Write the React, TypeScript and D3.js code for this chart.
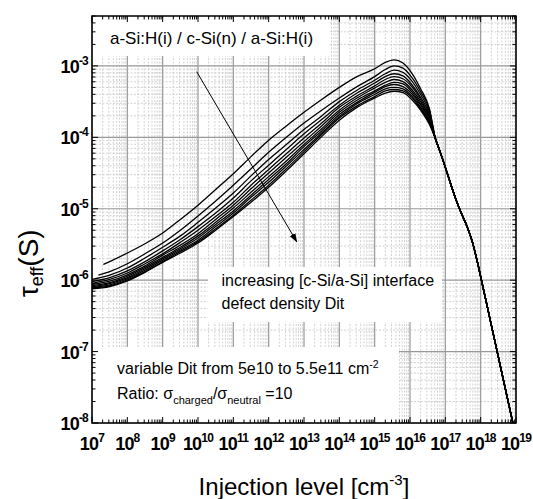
import React from 'react';
import * as d3 from 'd3';

// log10 of injection level [cm^-3] shared by the rising/peak parts of the curves
const gridLogN = [7, 7.5, 8, 8.5, 9, 9.5, 10, 10.5, 11, 11.5, 12, 12.5, 13, 13.5, 14, 14.5, 15, 15.3, 15.55, 15.8, 16.05, 16.3, 16.55];

// log10 tau_eff [s] for each Dit (cm^-2)
const tauDit0500 = [null, -5.74, -5.62, -5.49, -5.34, -5.15, -4.95, -4.73, -4.51, -4.27, -4.04, -3.84, -3.65, -3.47, -3.30, -3.15, -3.04, -2.95, -2.915, -2.96, -3.10, -3.32, -3.60];
const tauDit1000 = [null, -5.88, -5.77, -5.63, -5.48, -5.30, -5.10, -4.89, -4.67, -4.44, -4.21, -4.00, -3.80, -3.62, -3.45, -3.29, -3.15, -3.05, -3.00, -3.03, -3.16, -3.36, -3.62];
const tauDit1500 = [-5.99, -5.93, -5.83, -5.69, -5.54, -5.38, -5.19, -4.99, -4.78, -4.54, -4.31, -4.10, -3.89, -3.70, -3.50, -3.34, -3.20, -3.11, -3.06, -3.09, -3.21, -3.40, -3.65];
const tauDit2000 = [-6.02, -5.965, -5.87, -5.74, -5.59, -5.43, -5.25, -5.06, -4.85, -4.61, -4.39, -4.17, -3.95, -3.75, -3.55, -3.38, -3.24, -3.15, -3.11, -3.14, -3.26, -3.44, -3.68];
const tauDit2500 = [-6.045, -5.99, -5.90, -5.77, -5.63, -5.47, -5.30, -5.11, -4.91, -4.67, -4.45, -4.23, -4.01, -3.80, -3.58, -3.42, -3.28, -3.19, -3.15, -3.18, -3.29, -3.47, -3.71];
const tauDit3000 = [-6.06, -6.015, -5.925, -5.80, -5.65, -5.51, -5.35, -5.15, -4.95, -4.72, -4.50, -4.28, -4.06, -3.84, -3.62, -3.45, -3.31, -3.23, -3.19, -3.22, -3.33, -3.50, -3.73];
const tauDit3500 = [-6.075, -6.035, -5.945, -5.82, -5.68, -5.54, -5.38, -5.19, -4.99, -4.77, -4.55, -4.33, -4.10, -3.88, -3.65, -3.48, -3.35, -3.27, -3.23, -3.25, -3.36, -3.53, -3.75];
const tauDit4000 = [-6.09, -6.05, -5.965, -5.84, -5.70, -5.56, -5.41, -5.22, -5.03, -4.81, -4.59, -4.37, -4.13, -3.91, -3.68, -3.51, -3.37, -3.29, -3.26, -3.29, -3.39, -3.55, -3.77];
const tauDit4500 = [-6.10, -6.065, -5.98, -5.86, -5.72, -5.58, -5.44, -5.25, -5.06, -4.84, -4.63, -4.40, -4.17, -3.94, -3.71, -3.53, -3.40, -3.32, -3.30, -3.32, -3.42, -3.58, -3.79];
const tauDit5000 = [-6.11, -6.08, -5.995, -5.88, -5.74, -5.60, -5.46, -5.28, -5.09, -4.88, -4.67, -4.44, -4.20, -3.96, -3.73, -3.56, -3.43, -3.35, -3.33, -3.35, -3.44, -3.60, -3.80];
const tauDit5500 = [-6.12, -6.09, -6.01, -5.89, -5.75, -5.62, -5.48, -5.30, -5.11, -4.91, -4.70, -4.47, -4.23, -3.99, -3.76, -3.58, -3.45, -3.38, -3.355, -3.375, -3.47, -3.62, -3.82];

// first points of the two curves that start inside the plot
const startLogN = [7.32, 7.18];
const startLogTau = [-5.78, -5.93];

// common high-injection tail (all curves merge)
const tailLogN = [16.72, 16.85, 17.0, 17.15, 17.3, 17.45, 17.6, 17.75, 17.9, 18.0, 18.2, 18.4, 18.6, 18.8, 18.92];
const tailLogTau = [-4.02, -4.20, -4.42, -4.65, -4.87, -5.06, -5.23, -5.44, -5.73, -5.95, -6.40, -6.85, -7.30, -7.75, -8.02];

const xExponents = ['7', '8', '9', '10', '11', '12', '13', '14', '15', '16', '17', '18', '19'];
const yExponents = ['-8', '-7', '-6', '-5', '-4', '-3'];

const series = [tauDit0500, tauDit1000, tauDit1500, tauDit2000, tauDit2500, tauDit3000, tauDit3500, tauDit4000, tauDit4500, tauDit5000, tauDit5500];

const FONT = 'Liberation Sans, Arial, sans-serif';

export default function App() {
  const L = 92, R = 516, T = 16, B = 423;
  const x = d3.scaleLog().domain([1e7, 1e19]).range([L, R]);
  const y = d3.scaleLog().domain([1e-8, 5e-3]).range([B, T]);

  const xMajor = xExponents.map((e) => Math.pow(10, +e));
  const yMajor = yExponents.map((e) => Math.pow(10, +e));
  const xMinor: number[] = [];
  for (let e = 7; e < 19; e++) for (let k = 2; k <= 9; k++) xMinor.push(k * Math.pow(10, e));
  const yMinor: number[] = [];
  for (let e = -8; e < -2; e++) for (let k = 2; k <= 9; k++) { const v = k * Math.pow(10, e); if (v <= 5.0001e-3) yMinor.push(v); }

  const line = d3.line<[number, number]>()
    .x((d) => x(Math.pow(10, d[0])))
    .y((d) => y(Math.pow(10, d[1])))
    .curve(d3.curveMonotoneX);

  const paths = series.map((vals, i) => {
    const pts: [number, number][] = [];
    if (i < startLogN.length) pts.push([startLogN[i], startLogTau[i]]);
    vals.forEach((v, j) => { if (v !== null) pts.push([gridLogN[j], v as number]); });
    tailLogN.forEach((n, j) => pts.push([n, tailLogTau[j]]));
    return line(pts) || '';
  });

  const majorGrid = '#999999';
  const minorGrid = '#c6c6c6';

  return (
    <svg width={533} height={499} style={{ display: 'block', position: 'absolute', left: 0, top: 0 }} fontFamily={FONT}>
      <defs>
        <clipPath id="plotClip"><rect x={L} y={T} width={R - L} height={B - T} /></clipPath>
        <marker id="arrowHead" viewBox="0 0 10 10" refX="9" refY="5" markerWidth="9" markerHeight="9" markerUnits="userSpaceOnUse" orient="auto">
          <path d="M0,1.5 L10,5 L0,8.5 z" fill="#000" />
        </marker>
      </defs>
      <rect x={0} y={0} width={533} height={499} fill="#fff" />
      {/* minor grid */}
      <g stroke={minorGrid} strokeWidth={0.8} strokeDasharray="2,1.5">
        {xMinor.map((v, i) => <line key={'xm' + i} x1={x(v)} x2={x(v)} y1={T} y2={B} />)}
        {yMinor.map((v, i) => <line key={'ym' + i} x1={L} x2={R} y1={y(v)} y2={y(v)} />)}
      </g>
      {/* major grid */}
      <g stroke={majorGrid} strokeWidth={1.2}>
        {xMajor.map((v, i) => <line key={'xM' + i} x1={x(v)} x2={x(v)} y1={T} y2={B} />)}
        {yMajor.map((v, i) => <line key={'yM' + i} x1={L} x2={R} y1={y(v)} y2={y(v)} />)}
      </g>
      {/* white text boxes */}
      <rect x={93} y={19} width={237} height={37} fill="#fff" />
      <rect x={208} y={267} width={234} height={55} fill="#fff" />
      <rect x={93} y={347} width={306} height={75} fill="#fff" />
      {/* curves */}
      <g clipPath="url(#plotClip)" fill="none" stroke="#000" strokeWidth={1.3}>
        {paths.map((d, i) => <path key={'c' + i} d={d} />)}
      </g>
      {/* arrow */}
      <line x1={196.7} y1={71.7} x2={296.7} y2={241.7} stroke="#000" strokeWidth={1} markerEnd="url(#arrowHead)" />
      {/* frame */}
      <rect x={L} y={T} width={R - L} height={B - T} fill="none" stroke="#000" strokeWidth={1.5} />
      {/* ticks */}
      <g stroke="#000" strokeWidth={1}>
        {xMajor.map((v, i) => <g key={'xt' + i}><line x1={x(v)} x2={x(v)} y1={B} y2={B - 6} /><line x1={x(v)} x2={x(v)} y1={T} y2={T + 6} /></g>)}
        {xMinor.map((v, i) => <g key={'xmt' + i}><line x1={x(v)} x2={x(v)} y1={B} y2={B - 3.5} /><line x1={x(v)} x2={x(v)} y1={T} y2={T + 3.5} /></g>)}
        {yMajor.map((v, i) => <g key={'yt' + i}><line x1={L} x2={L + 6} y1={y(v)} y2={y(v)} /><line x1={R} x2={R - 6} y1={y(v)} y2={y(v)} /></g>)}
        {yMinor.map((v, i) => <g key={'ymt' + i}><line x1={L} x2={L + 3.5} y1={y(v)} y2={y(v)} /><line x1={R} x2={R - 3.5} y1={y(v)} y2={y(v)} /></g>)}
      </g>
      {/* tick labels */}
      <g fontWeight="bold" fill="#000">
        {xMajor.map((v, i) => (
          <text key={'xl' + i} x={x(v)} y={450} textAnchor="middle" fontSize={18} letterSpacing={-0.8}>
            10<tspan fontSize={12} dy={-8}>{xExponents[i]}</tspan>
          </text>
        ))}
        {yMajor.map((v, i) => (
          <text key={'yl' + i} x={88} y={y(v) + 7} textAnchor="end" fontSize={18} letterSpacing={-0.8}>
            10<tspan fontSize={12} dy={-8}>{yExponents[i]}</tspan>
          </text>
        ))}
      </g>
      {/* annotations */}
      <text x={110} y={44} fontSize={17} fill="#000">a-Si:H(i) / c-Si(n) / a-Si:H(i)</text>
      <text x={221.5} y={286} fontSize={16} fill="#000">increasing [c-Si/a-Si] interface</text>
      <text x={221.5} y={308.5} fontSize={16} fill="#000">defect density Dit</text>
      <text x={117} y={374} fontSize={16} fill="#000">
        variable Dit from 5e10 to 5.5e11 cm<tspan fontSize={10.5} dy={-6.5}>-2</tspan>
      </text>
      <text x={117} y={398.5} fontSize={16} fill="#000">
        Ratio: σ<tspan fontSize={11} dy={5}>charged</tspan><tspan dy={-5}>/σ</tspan><tspan fontSize={11} dy={5}>neutral</tspan><tspan dy={-5}> =10</tspan>
      </text>
      {/* axis titles */}
      <text x={304} y={495} textAnchor="middle" fontSize={24} fill="#000">
        Injection level [cm<tspan fontSize={15} dy={-10}>-3</tspan><tspan dy={10}>]</tspan>
      </text>
      <text transform="translate(38,297) rotate(-90)" textAnchor="start" fill="#000" fontSize={27}>
        τ<tspan fontSize={18} dy={5}>eff</tspan><tspan fontSize={28} dy={-5}>(S)</tspan>
      </text>
    </svg>
  );
}
